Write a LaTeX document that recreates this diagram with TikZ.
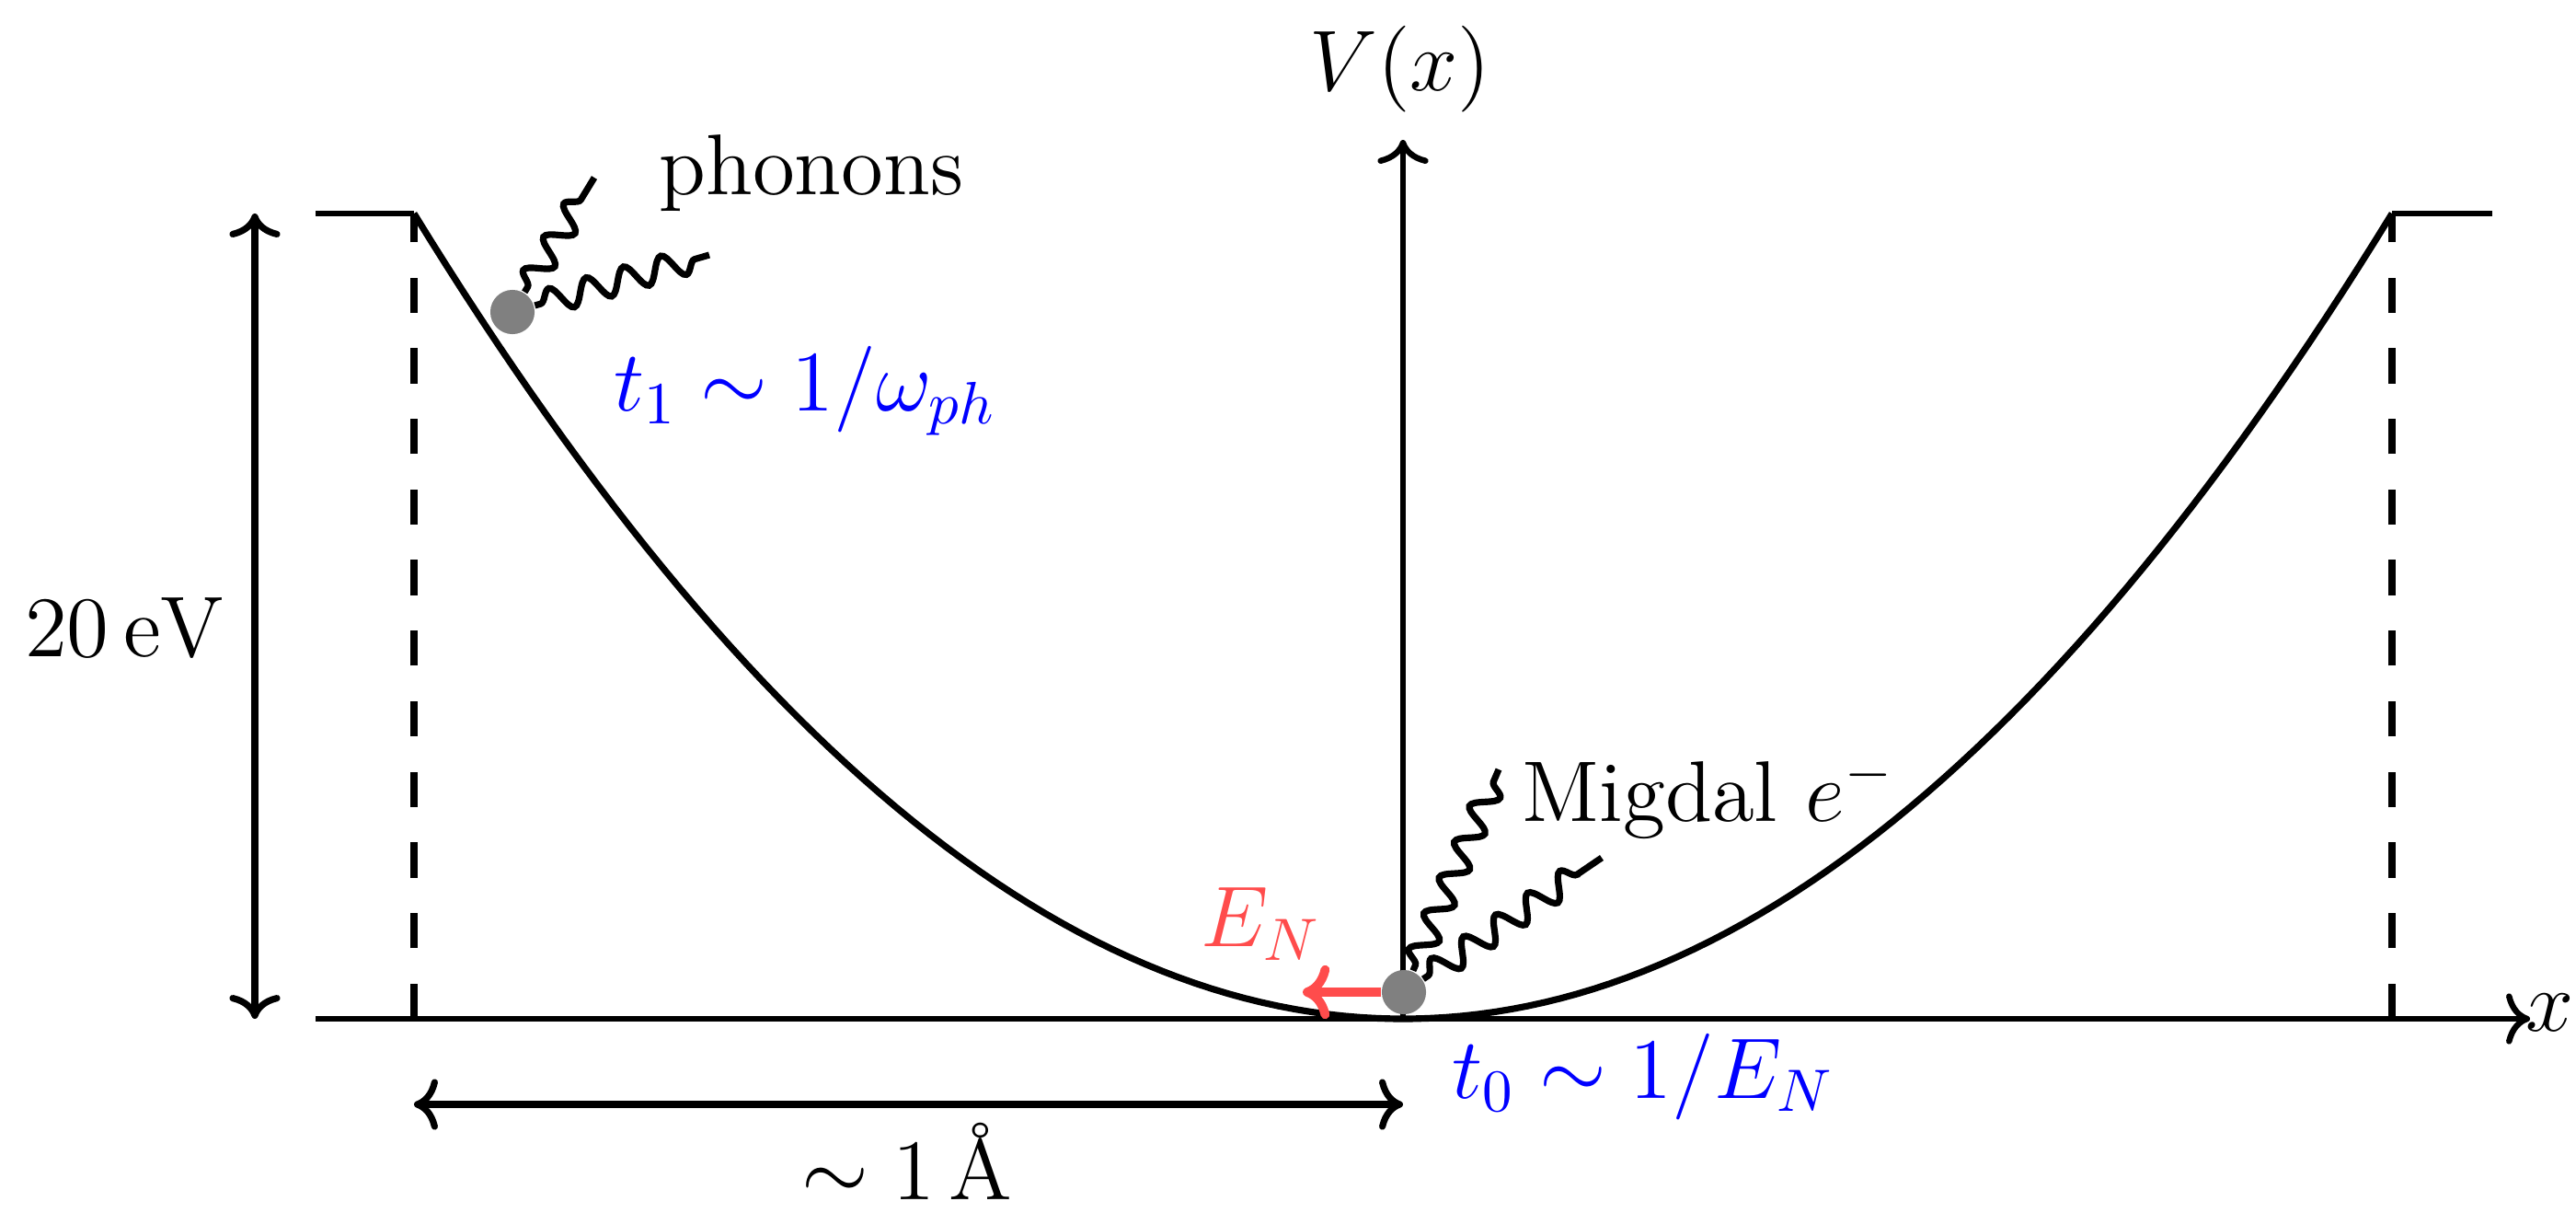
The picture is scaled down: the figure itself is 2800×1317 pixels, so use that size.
\documentclass[tikz,border=0pt]{standalone}
\usetikzlibrary{decorations.pathmorphing,arrows.meta}
\begin{document}
\begin{tikzpicture}[x=0.153846pt,y=-0.153846pt, font=\Large,
  axis/.style={line width=1pt,-{To[length=4pt,width=8.5pt]}},
  dim/.style={line width=1.1pt,{To[length=4pt,width=8.5pt]}-{To[length=4pt,width=8.5pt]}},
  curve/.style={line width=1.1pt},
  flat/.style={line width=0.8pt},
  guide/.style={line width=1.1pt,dash pattern=on 5.9pt off 5.9pt},
  wave/.style={line width=1.1pt, decorate, decoration={snake, segment length=6.5pt, amplitude=2.1pt, pre length=1pt, post length=2pt}},
  ball/.style={circle, fill=gray, inner sep=0pt, minimum size=7.4pt},
  push/.style={line width=1.5pt, red!70, -{To[length=4.5pt,width=9pt]}},
  lbl/.style={inner sep=1pt}]
\useasboundingbox (0,0) rectangle (2800,1317);
% key points
\coordinate (xs) at (343,1107);
\coordinate (xe) at (2750,1107);
\coordinate (vb) at (1525,1107);
\coordinate (vt) at (1525,152);
\coordinate (ltop0) at (343,232);
\coordinate (ltop) at (450,232);
\coordinate (rtop) at (2600,232);
\coordinate (rtop1) at (2709,232);
\coordinate (lbot) at (450,1107);
\coordinate (rbot) at (2600,1107);
% axes
\draw[axis] (xs) -- (xe);
\draw[axis] (vb) -- (vt);
\node[lbl] (vlab) at (1522,75) {$V(x)$};
\node[lbl] (xlab) at (2772,1100) {$x$};
% potential
\draw[flat] (ltop0) -- (ltop);
\draw[flat] (rtop) -- (rtop1);
\draw[curve] plot[domain=450:2600, samples=120] (\x, {1107 - 875*((\x-1525)/1075)^2});
\draw[guide] (lbot) -- (ltop);
\draw[guide] (rbot) -- (rtop);
% dimensions
\coordinate (ea) at (277,232);
\coordinate (eb) at (277,1107);
\draw[dim] (ea) -- (eb);
\node[lbl] (elab) at (136,682) {$20\,\mathrm{eV}$};
\coordinate (la) at (450,1200);
\coordinate (lb) at (1525,1200);
\draw[dim] (la) -- (lb);
\node[lbl] (llab) at (986,1262) {$\sim 1\,$\AA};
% phonon emission
\node[ball] (d1) at (557,339) {};
\coordinate (w1) at (646,193);
\coordinate (w2) at (771,277);
\draw[wave] (d1) -- (w1);
\draw[wave] (d1) -- (w2);
\node[lbl] (ph) at (882,188) {phonons};
\node[lbl, text=blue] (t1) at (875,425) {$t_1 \sim 1/\omega_{ph}$};
% Migdal electron
\node[ball] (d2) at (1526,1078) {};
\coordinate (w3) at (1629,836);
\coordinate (w4) at (1741,932);
\draw[wave] (d2) -- (w3);
\draw[wave] (d2) -- (w4);
\node[lbl] (mig) at (1857,866) {Migdal $e^-$};
\coordinate (pe) at (1416,1078);
\draw[push] (d2) -- (pe);
\node[lbl, text=red!70] (en) at (1371,1004) {$E_N$};
\node[lbl, text=blue] (t0) at (1786,1170) {$t_0 \sim 1/E_N$};
\end{tikzpicture}
\end{document}
